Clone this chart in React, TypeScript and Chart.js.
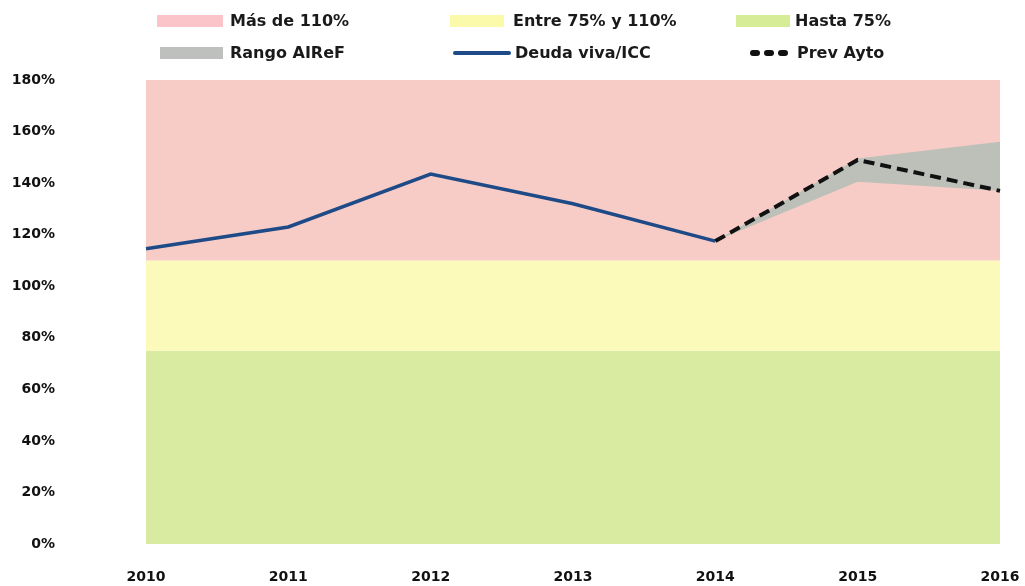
import React, { useEffect, useRef } from "react";
import { Chart, registerables } from "chart.js";

Chart.register(...registerables);

const years = ["2010", "2011", "2012", "2013", "2014", "2015", "2016"];
const deudaViva = [114.5, 123, 143.5, 132, 117.5, null, null];
const prevAyto = [null, null, null, null, 117.5, 149, 137];
const rangoUpper = [null, null, null, null, 117.5, 149.5, 156];
const rangoLower = [null, null, null, null, 117.5, 140.5, 137];
const bandHigh = [180, 180, 180, 180, 180, 180, 180];
const bandMid = [110, 110, 110, 110, 110, 110, 110];
const bandLow = [75, 75, 75, 75, 75, 75, 75];
const yTicks = [0, 20, 40, 60, 80, 100, 120, 140, 160, 180];

const PINK = "rgb(248,204,198)";
const YELLOW = "rgb(252,250,186)";
const GREEN = "rgb(216,235,160)";
const GRAY = "rgb(188,192,184)";
const BLUE = "rgb(30,74,136)";

const FONT = "'DejaVu Sans', sans-serif";

type LegendItem = { label: string; kind: "box" | "line" | "dash"; color: string; left: number; textLeft: number; top: number; swW: number };

const legendItems: LegendItem[] = [
  { label: "Más de 110%", kind: "box", color: "rgb(250,196,200)", left: 157, textLeft: 230, top: 21, swW: 66 },
  { label: "Entre 75% y 110%", kind: "box", color: "rgb(250,250,170)", left: 450, textLeft: 513, top: 21, swW: 54 },
  { label: "Hasta 75%", kind: "box", color: "rgb(214,236,150)", left: 736, textLeft: 795, top: 21, swW: 54 },
  { label: "Rango AIReF", kind: "box", color: "rgb(190,192,190)", left: 160, textLeft: 230, top: 53, swW: 63 },
  { label: "Deuda viva/ICC", kind: "line", color: BLUE, left: 453, textLeft: 515, top: 53, swW: 58 },
  { label: "Prev Ayto", kind: "dash", color: "#111", left: 750, textLeft: 797, top: 53, swW: 38 },
];

function Swatch({ item }: { item: LegendItem }) {
  const base: React.CSSProperties = { position: "absolute", left: item.left, width: item.swW };
  if (item.kind === "box") {
    return <div style={{ ...base, top: item.top - 6, height: 12, background: item.color }} />;
  }
  if (item.kind === "line") {
    return <div style={{ ...base, top: item.top - 2, height: 4, background: item.color, borderRadius: 2 }} />;
  }
  return (
    <div style={{ ...base, top: item.top - 3, height: 6, display: "flex", justifyContent: "space-between" }}>
      {[0, 1, 2].map((i) => (
        <div key={i} style={{ width: 10, height: 6, background: item.color, borderRadius: 3 }} />
      ))}
    </div>
  );
}

export default function App() {
  const ref = useRef<HTMLCanvasElement | null>(null);

  useEffect(() => {
    document.body.style.margin = "0";
    if (!ref.current) return;
    const lineDs = (extra: any) => ({ pointRadius: 0, tension: 0, ...extra });
    const band = (label: string, data: any[], color: string, fill: any) =>
      lineDs({ label, data, borderWidth: 0, borderColor: "rgba(0,0,0,0)", backgroundColor: color, fill });
    const chart = new Chart(ref.current, {
      type: "line",
      data: {
        labels: years,
        datasets: [
          lineDs({ label: "Prev Ayto", data: prevAyto, borderColor: "#111", borderWidth: 4, borderDash: [11, 6], fill: false }),
          lineDs({ label: "Deuda viva/ICC", data: deudaViva, borderColor: BLUE, borderWidth: 3.5, fill: false }),
          band("Rango AIReF", rangoUpper, GRAY, "+1"),
          band("Rango AIReF (mín.)", rangoLower, "rgba(0,0,0,0)", false),
          band("Más de 110%", bandHigh, PINK, { value: 110 }),
          band("Entre 75% y 110%", bandMid, YELLOW, { value: 75 }),
          band("Hasta 75%", bandLow, GREEN, "origin"),
        ],
      },
      options: {
        animation: false,
        responsive: false,
        maintainAspectRatio: false,
        events: [],
        layout: { padding: { top: 80, right: 5, left: 0, bottom: 0 } },
        plugins: { legend: { display: false }, tooltip: { enabled: false } },
        scales: {
          x: {
            offset: false,
            grid: { display: false, drawTicks: false },
            border: { display: false },
            ticks: { color: "#111", font: { family: FONT, size: 14, weight: "bold" }, padding: 25, maxRotation: 0 },
            afterFit: (scale: any) => {
              scale.paddingLeft = 0;
              scale.paddingRight = 25;
              scale.height = 42;
            },
          },
          y: {
            min: 0,
            max: 180,
            afterFit: (scale: any) => {
              scale.width = 146;
              scale.paddingTop = 0;
              scale.paddingBottom = 0;
            },
            afterBuildTicks: (scale: any) => {
              scale.ticks = yTicks.map((v) => ({ value: v }));
            },
            grid: { display: false, drawTicks: false },
            border: { display: false },
            ticks: {
              color: "#111",
              font: { family: FONT, size: 14, weight: "bold" },
              padding: 91,
              callback: (v: any) => `${v}%`,
            },
          },
        },
      },
    });
    return () => chart.destroy();
  }, []);

  return (
    <div style={{ position: "relative", width: 1025, height: 586, background: "#fff" }}>
      <canvas ref={ref} width={1025} height={586} style={{ position: "absolute", left: 0, top: 0, width: 1025, height: 586 }} />
      {legendItems.map((it) => (
        <React.Fragment key={it.label}>
          <Swatch item={it} />
          <div
            style={{
              position: "absolute",
              left: it.textLeft,
              top: it.top - 10,
              height: 20,
              lineHeight: "20px",
              fontFamily: FONT,
              fontWeight: "bold",
              fontSize: 16,
              color: "#1a1a1a",
              whiteSpace: "nowrap",
            }}
          >
            {it.label}
          </div>
        </React.Fragment>
      ))}
    </div>
  );
}
